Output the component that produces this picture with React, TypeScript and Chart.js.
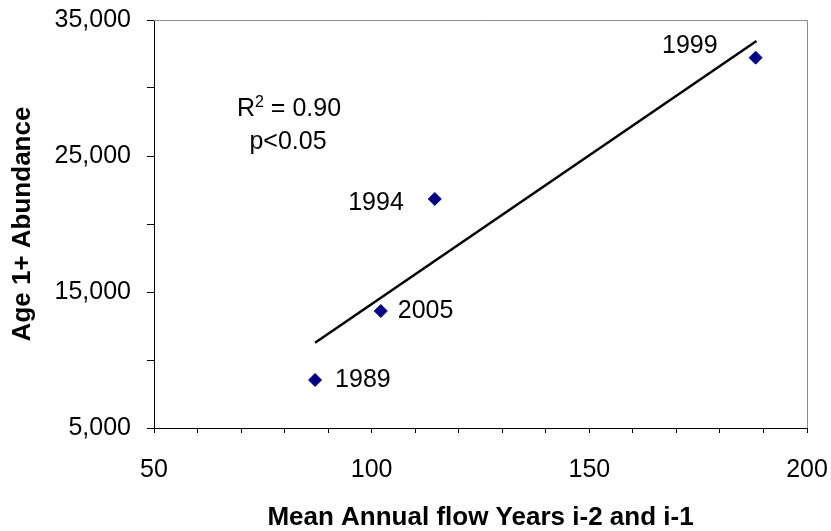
import React, { useEffect, useRef } from 'react';
import { Chart, registerables } from 'chart.js';

Chart.register(...registerables);

const FONT = '"Liberation Sans", Arial, Helvetica, sans-serif';

// Data
const years = ['1989', '2005', '1994', '1999'];
const meanFlow = [87.0, 102.1, 114.5, 188.2];
const abundance = [8530, 13600, 21840, 32230];

// Fitted trend line end points
const trendFlow = [87.0, 188.4];
const trendAbundance = [11270, 33450];

// Tick labels
const xTickLabels = [50, 100, 150, 200];
const yTickLabels = [5000, 15000, 25000, 35000];

// Statistics text
const statR = 'R';
const statSup = '2';
const statRest = ' = 0.90';
const statP = 'p<0.05';

const xTitle = 'Mean Annual flow Years i-2 and i-1';
const yTitle = 'Age 1+ Abundance';

// Label placement (pixel offsets from each point)
const labelOffsets: { dx: number; dy: number; align: CanvasTextAlign }[] = [
  { dx: 20, dy: 0, align: 'left' },
  { dx: 17, dy: 0, align: 'left' },
  { dx: -31, dy: 4, align: 'right' },
  { dx: -38, dy: -12, align: 'right' },
];

const zeroPadding = (s: any) => {
  s.paddingLeft = 0;
  s.paddingRight = 0;
  s.paddingTop = 0;
  s.paddingBottom = 0;
};

const annotationPlugin = {
  id: 'annotations',
  beforeDatasetsDraw(chart: any) {
    const { ctx, chartArea } = chart;
    const { top, right, bottom, left } = chartArea;
    ctx.save();
    ctx.strokeStyle = '#8c8c8c';
    ctx.lineWidth = 1;
    ctx.beginPath();
    ctx.moveTo(left, Math.round(top) + 0.5);
    ctx.lineTo(Math.round(right) + 0.5, Math.round(top) + 0.5);
    ctx.lineTo(Math.round(right) + 0.5, bottom);
    ctx.stroke();
    ctx.restore();
  },
  afterDatasetsDraw(chart: any) {
    const { ctx } = chart;
    const meta = chart.getDatasetMeta(0);
    ctx.save();
    ctx.fillStyle = '#000';
    ctx.font = `25px ${FONT}`;
    ctx.textBaseline = 'middle';
    meta.data.forEach((el: any, i: number) => {
      const o = labelOffsets[i];
      ctx.textAlign = o.align;
      ctx.fillText(years[i], el.x + o.dx, el.y + o.dy);
    });

    // R^2 line
    ctx.textAlign = 'left';
    ctx.textBaseline = 'alphabetic';
    const mainFont = `25px ${FONT}`;
    const supFont = `16px ${FONT}`;
    ctx.font = mainFont;
    const wR = ctx.measureText(statR).width;
    const wRest = ctx.measureText(statRest).width;
    ctx.font = supFont;
    const wSup = ctx.measureText(statSup).width;
    const total = wR + wSup + wRest;
    const cx = 289;
    const base1 = 116;
    let sx = cx - total / 2;
    ctx.font = mainFont;
    ctx.fillText(statR, sx, base1);
    sx += wR;
    ctx.font = supFont;
    ctx.fillText(statSup, sx, base1 - 9);
    sx += wSup;
    ctx.font = mainFont;
    ctx.fillText(statRest, sx, base1);

    ctx.textAlign = 'center';
    ctx.textBaseline = 'middle';
    ctx.fillText(statP, 288, 142);
    ctx.restore();
  },
};

export default function App() {
  const canvasRef = useRef<HTMLCanvasElement | null>(null);

  useEffect(() => {
    if (!canvasRef.current) return;
    const chart = new Chart(canvasRef.current, {
      type: 'scatter',
      data: {
        datasets: [
          {
            label: 'Abundance',
            data: meanFlow.map((x, i) => ({ x, y: abundance[i] })),
            pointStyle: 'rectRot',
            pointRadius: 6.5,
            pointHoverRadius: 6.5,
            backgroundColor: '#000080',
            borderColor: '#000080',
            borderWidth: 1,
            showLine: false,
          },
          {
            label: 'Trend',
            data: trendFlow.map((x, i) => ({ x, y: trendAbundance[i] })),
            showLine: true,
            pointRadius: 0,
            borderColor: '#000',
            borderWidth: 2.5,
            fill: false,
          },
        ],
      },
      options: {
        responsive: false,
        animation: false,
        events: [],
        layout: { padding: { left: 0, right: 24, top: 20, bottom: 0 } },
        plugins: {
          legend: { display: false },
          tooltip: { enabled: false },
        },
        scales: {
          x: {
            type: 'linear',
            min: 50,
            max: 200,
            afterFit: (s: any) => {
              s.height = 103;
              zeroPadding(s);
            },
            ticks: {
              stepSize: 10,
              autoSkip: false,
              maxRotation: 0,
              minRotation: 0,
              padding: 22,
              color: '#000',
              font: { family: FONT, size: 25 },
              callback: (v: any) => (xTickLabels.includes(Number(v)) ? String(v) : ''),
            },
            grid: {
              drawOnChartArea: false,
              drawTicks: true,
              tickLength: 5,
              color: '#000',
              lineWidth: 1,
            },
            border: { display: true, color: '#000', width: 1 },
            title: {
              display: true,
              text: xTitle,
              color: '#000',
              font: { family: FONT, size: 26, weight: 'bold', lineHeight: 1 },
              padding: { top: 0, bottom: 0 },
            },
          },
          y: {
            type: 'linear',
            min: 5000,
            max: 35000,
            afterFit: (s: any) => {
              s.width = 154;
              zeroPadding(s);
            },
            ticks: {
              stepSize: 5000,
              autoSkip: false,
              padding: 16,
              color: '#000',
              font: { family: FONT, size: 25 },
              callback: (v: any) =>
                yTickLabels.includes(Number(v)) ? Number(v).toLocaleString('en-US') : '',
            },
            grid: {
              drawOnChartArea: false,
              drawTicks: true,
              tickLength: 7,
              color: '#000',
              lineWidth: 1,
            },
            border: { display: true, color: '#000', width: 1 },
            title: {
              display: true,
              text: yTitle,
              color: '#000',
              font: { family: FONT, size: 26, weight: 'bold', lineHeight: 1 },
              padding: { top: 10, bottom: 0 },
            },
          },
        },
      },
      plugins: [annotationPlugin],
    });
    return () => chart.destroy();
  }, []);

  return (
    <div style={{ position: 'absolute', left: 0, top: 0, width: 831, height: 531, background: '#fff' }}>
      <canvas ref={canvasRef} width={831} height={531} style={{ display: 'block' }} />
    </div>
  );
}
